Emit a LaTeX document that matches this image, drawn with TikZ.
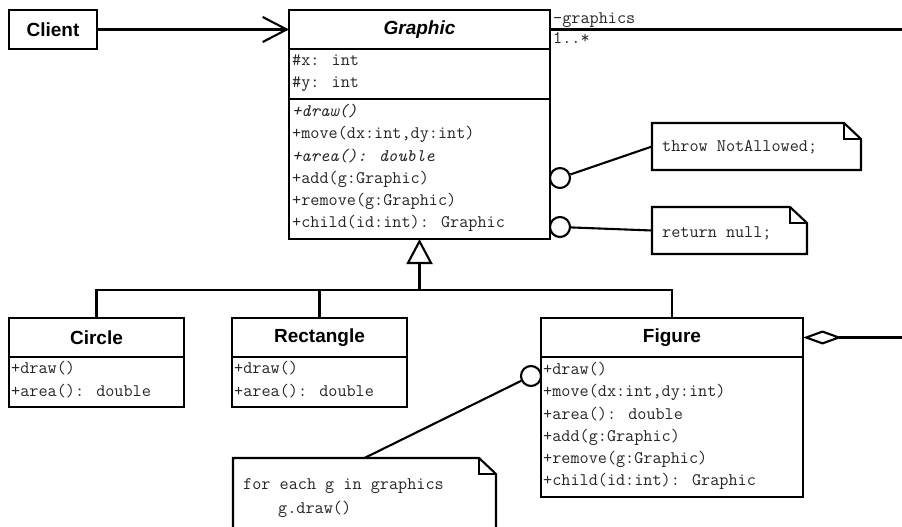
\documentclass[tikz,border=0pt]{standalone}
\usepackage{fontspec}
\setmainfont{Liberation Sans}
\usetikzlibrary{arrows.meta}
\begin{document}
\begin{tikzpicture}[x=1pt,y=-1pt,
  box/.style={draw, line width=2.2pt, inner sep=0pt, outer sep=0pt, anchor=north west},
  title/.style={box, minimum height=39pt, font=\bfseries\fontsize{19}{22}\selectfont},
  row/.style={anchor=west, inner sep=0pt, text=black!85, font=\ttfamily\fontsize{17.7}{20}\selectfont, text height=11pt, text depth=4pt, yshift=-1.5pt},
  irow/.style={row, font=\ttfamily\itshape\fontsize{17.7}{20}\selectfont},
  notebox/.style={inner sep=0pt, outer sep=0pt, anchor=north west},
  link/.style={line width=2.1pt},
  lolly/.style={circle, draw, line width=2.1pt, minimum size=20pt, inner sep=0pt, fill=white}
]
\clip (0,0) rectangle (902,527);

% client
\node[title, minimum width=88pt] (client) at (9,10) {Client};

% abstract component
\node[title, minimum width=261pt] (gtitle) at (289,10) {\itshape Graphic};
\node[box, minimum width=261pt, minimum height=50pt] (gattr) at (289,49) {};
\node[box, minimum width=261pt, minimum height=140pt] (gops) at (289,99) {};
\node[row] (gx) at (292,61) {\#x: int};
\node[row] (gy) at (292,83) {\#y: int};
\node[irow] (gdraw) at (292,111) {+draw()};
\node[row] (gmove) at (292,133.5) {+move(dx:int,dy:int)};
\node[irow] (garea) at (292,156) {+area(): double};
\node[row] (gadd) at (292,178) {+add(g:Graphic)};
\node[row] (grem) at (292,200.5) {+remove(g:Graphic)};
\node[row] (gchild) at (292,222.5) {+child(id:int): Graphic};

% leaves
\node[title, minimum width=175pt] (ctitle) at (9,318) {Circle};
\node[box, minimum width=175pt, minimum height=50pt] (cops) at (9,357) {};
\node[row] (cdraw) at (11,368) {+draw()};
\node[row] (carea) at (11,391) {+area(): double};

\node[title, minimum width=175pt] (rtitle) at (232,318) {Rectangle};
\node[box, minimum width=175pt, minimum height=50pt] (rops) at (232,357) {};
\node[row] (rdraw) at (234,368) {+draw()};
\node[row] (rarea) at (234,391) {+area(): double};

% composite
\node[title, minimum width=262pt] (ftitle) at (541,318) {Figure};
\node[box, minimum width=262pt, minimum height=140pt] (fops) at (541,357) {};
\node[row] (fdraw) at (543,369) {+draw()};
\node[row] (fmove) at (543,391.5) {+move(dx:int,dy:int)};
\node[row] (farea) at (543,414) {+area(): double};
\node[row] (fadd) at (543,436) {+add(g:Graphic)};
\node[row] (frem) at (543,458) {+remove(g:Graphic)};
\node[row] (fchild) at (543,480.5) {+child(id:int): Graphic};

% notes
\node[notebox, minimum width=209pt, minimum height=47pt] (note1) at (652,123) {};
\node[notebox, minimum width=155pt, minimum height=47pt] (note2) at (652,207) {};
\node[notebox, minimum width=263pt, minimum height=90pt] (note3) at (233,458) {};
\foreach \n in {note1,note2,note3} {
  \draw[link] (\n.north west) -- ([xshift=-17pt]\n.north east)
    -- ([yshift=-16pt]\n.north east) -- (\n.south east) -- (\n.south west) -- cycle;
  \draw[line width=1.4pt] ([xshift=-17pt]\n.north east) |- ([yshift=-16pt]\n.north east);
}
\node[row] (t1) at (662,146.5) {throw NotAllowed;};
\node[row] (t2) at (662,232) {return null;};
\node[row] (t3a) at (243,484) {for each g in graphics};
\node[row] (t3b) at (278,508) {g.draw()};

% note attachments
\node[lolly] (l1) at (560,178) {};
\node[lolly] (l2) at (560,227) {};
\node[lolly] (l3) at (531,376) {};
\draw[link] (l1) -- (note1.west);
\draw[link] (l2) -- (note2.west);
\draw[link] (l3) -- (note3.north);

% client uses graphic
\draw[link, -{Straight Barb[length=24pt, width=25pt]}] (client) -- (gtitle);

% children association on the right
\coordinate (rimA) at (902,29.5);
\coordinate (rimB) at (902,337.5);
\draw[link] (gtitle.east) -- (rimA);
\node[row, anchor=south west, yshift=1.5pt] (role) at ([xshift=3pt,yshift=2pt]gtitle.east) {-graphics};
\node[row, anchor=north west, yshift=1.5pt] (mult) at ([xshift=3pt,yshift=-3pt]gtitle.east) {1..*};
\draw[link, {Diamond[open, length=39pt, width=14pt]}-] (ftitle.east) -- (rimB);

% generalisation
\coordinate (hub) at (419.5,290);
\draw[link, -{Triangle[open, length=25pt, width=26pt]}] (hub) -- (gops.south);
\draw[link] (ctitle.north) -- (ctitle.north |- hub) -- (ftitle.north |- hub) -- (ftitle.north);
\draw[link] (rtitle.north) -- (rtitle.north |- hub);
\end{tikzpicture}
\end{document}
